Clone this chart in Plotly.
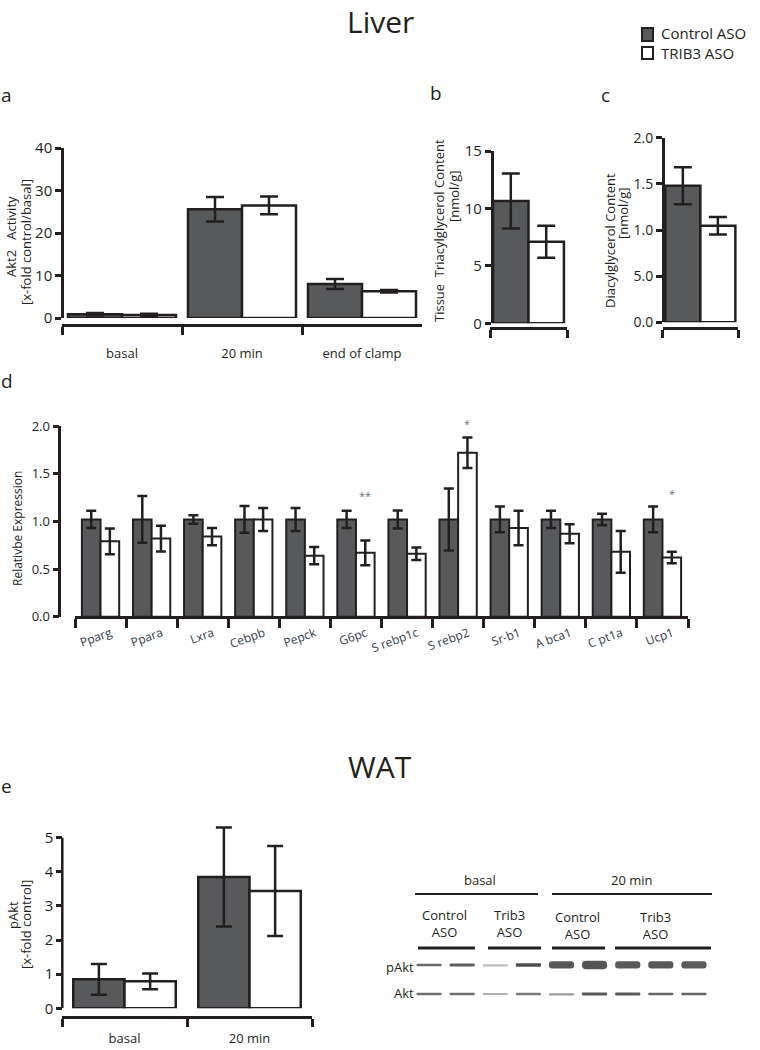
import plotly.graph_objects as go

# ---------------- data ----------------
a_groups = ["basal", "20 min", "end of clamp"]
a_ctrl = [0.9, 25.6, 8.0]
a_ctrl_sem = [0.3, 2.9, 1.2]
a_trib = [0.7, 26.5, 6.3]
a_trib_sem = [0.3, 2.1, 0.3]

b_groups = ["TG"]
b_ctrl = [10.65]
b_ctrl_sem = [2.4]
b_trib = [7.1]
b_trib_sem = [1.4]

c_groups = ["DAG"]
c_ctrl = [1.48]
c_ctrl_sem = [0.2]
c_trib = [1.045]
c_trib_sem = [0.095]
c_tickvals = [0.0, 0.5, 1.0, 1.5, 2.0]
c_ticktext = ["0.0", "5.0", "1.0", "1.5", "2.0"]

d_genes = ["Pparg", "Ppara", "Lxra", "Cebpb", "Pepck", "G6pc",
           "S rebp1c", "S rebp2", "Sr-b1", "A bca1", "C pt1a", "Ucp1"]
d_ctrl = [1.02, 1.02, 1.02, 1.02, 1.02, 1.02, 1.02, 1.02, 1.02, 1.02, 1.02, 1.02]
d_ctrl_sem = [0.09, 0.245, 0.045, 0.14, 0.12, 0.09, 0.095, 0.325, 0.135, 0.09, 0.06, 0.135]
d_trib = [0.79, 0.82, 0.84, 1.02, 0.64, 0.67, 0.66, 1.72, 0.93, 0.87, 0.68, 0.62]
d_trib_sem = [0.135, 0.135, 0.09, 0.12, 0.09, 0.13, 0.065, 0.16, 0.18, 0.10, 0.22, 0.06]
d_tickvals = [0.0, 0.5, 1.0, 1.5, 2.0]
d_ticktext = ["0.0", "0.5", "1.0", "1.5", "2.0"]
d_stars = [("G6pc", 1.27, "**"), ("S rebp2", 2.03, "*"), ("Ucp1", 1.29, "*")]

e_groups = ["basal", "20 min"]
e_ctrl = [0.85, 3.85]
e_ctrl_sem = [0.45, 1.45]
e_trib = [0.79, 3.44]
e_trib_sem = [0.23, 1.32]
e_tickvals = [0, 1, 2, 3, 4, 5]

legend_labels = ["Control ASO", "TRIB3 ASO"]

# western blot (lanes 1..9), band thickness and grey level
blot_lanes = [1, 2, 3, 4, 5, 6, 7, 8, 9]
pakt_thick = [0.09, 0.11, 0.06, 0.12, 0.25, 0.29, 0.25, 0.25, 0.25]
pakt_color = ["#6a6a6a", "#5e5e5e", "#bdbdbd", "#4e4e4e", "#575757",
              "#555555", "#585858", "#585858", "#5c5c5c"]
akt_thick = [0.09, 0.09, 0.07, 0.08, 0.06, 0.11, 0.11, 0.09, 0.09]
akt_color = ["#6e6e6e", "#6e6e6e", "#b0b0b0", "#7a7a7a", "#9a9a9a",
             "#5a5a5a", "#5a5a5a", "#666666", "#666666"]

# ---------------- style ----------------
INK = "#231f20"
CTRL = "#58595b"
FONT = "Open Sans"
W, H = 760, 1050


def X(px):
    return px / W


def Y(py):
    return 1 - py / H


fig = go.Figure()


def add_pair(cats, ctrl, ctrl_sem, trib, trib_sem, xa, ya, half, lw=2.5, capw=9):
    for vals, sem, col, off in [(ctrl, ctrl_sem, CTRL, -half), (trib, trib_sem, "white", 0.0)]:
        fig.add_trace(go.Bar(
            x=cats, y=vals, xaxis=xa, yaxis=ya, width=half, offset=off,
            marker=dict(color=col, line=dict(color=INK, width=lw)),
            error_y=dict(type="data", array=sem, visible=True, color=INK,
                         thickness=2.5, width=capw),
            cliponaxis=False, showlegend=False, hoverinfo="skip"))


add_pair(a_groups, a_ctrl, a_ctrl_sem, a_trib, a_trib_sem, "x", "y", 0.45)
add_pair(b_groups, b_ctrl, b_ctrl_sem, b_trib, b_trib_sem, "x2", "y2", 0.46)
add_pair(c_groups, c_ctrl, c_ctrl_sem, c_trib, c_trib_sem, "x3", "y3", 0.465)
add_pair(d_genes, d_ctrl, d_ctrl_sem, d_trib, d_trib_sem, "x4", "y4", 0.365, lw=2, capw=5)
add_pair(e_groups, e_ctrl, e_ctrl_sem, e_trib, e_trib_sem, "x5", "y5", 0.41, capw=8)

# western blot bands
for row, thick, cols in [(2, pakt_thick, pakt_color), (1, akt_thick, akt_color)]:
    fig.add_trace(go.Bar(
        x=blot_lanes, y=thick, base=[row - t / 2 for t in thick],
        xaxis="x6", yaxis="y6", width=0.76,
        marker=dict(color=cols, line=dict(width=0), cornerradius="45%"),
        showlegend=False, hoverinfo="skip"))

common = dict(showline=True, linecolor=INK, linewidth=2.5, ticks="outside",
              tickcolor=INK, tickwidth=2.5, showgrid=False, zeroline=False,
              fixedrange=True)


def xax(x0, x1, ypos, n, size=13, tl=8, standoff=10, show=True, **kw):
    d = dict(common)
    d.update(domain=[X(x0), X(x1)], anchor="free", position=Y(ypos), type="category",
             tickson="boundaries", ticklen=tl, range=[-0.5, n - 0.5],
             showticklabels=show, ticklabelstandoff=standoff,
             tickfont=dict(family=FONT, size=size, color=INK))
    d.update(kw)
    return d


def yax(y0, y1, xpos, rng, tickvals, ticktext=None, size=15, **kw):
    d = dict(common)
    d.update(domain=[Y(y0), Y(y1)], anchor="free", position=X(xpos), range=rng,
             tickvals=tickvals, ticklen=6,
             tickfont=dict(family=FONT, size=size, color=INK))
    if ticktext is not None:
        d["ticktext"] = ticktext
    d.update(kw)
    return d


# panel e: the axis range reaches above 5 so the error bar is not clipped;
# the axis line itself is drawn from 0 to 5 only (as in the reference)
E_TOP = 5.45
e_px_per_unit = (1008.3 - 837.7) / 5.0
e_top_px = 1008.3 - E_TOP * e_px_per_unit

layout = dict(
    width=W, height=H, autosize=False,
    margin=dict(l=0, r=0, t=0, b=0, autoexpand=False),
    paper_bgcolor="white", plot_bgcolor="rgba(0,0,0,0)",
    barmode="overlay", showlegend=False,
    font=dict(family=FONT, color=INK),
    xaxis=xax(62, 422, 325, 3, size=13, standoff=16),
    yaxis=yax(318, 148, 62, [0, 40], [0, 10, 20, 30, 40], size=15),
    xaxis2=xax(490, 567, 328, 1, show=False),
    yaxis2=yax(323.3, 151, 491.7, [0, 15], [0, 5, 10, 15], size=15),
    xaxis3=xax(662.7, 738, 328, 1, show=False),
    yaxis3=yax(322.3, 137.7, 662.7, [0, 2], c_tickvals, c_ticktext, size=14),
    xaxis4=xax(75, 688, 617, 12, size=12, tl=9, standoff=3, tickangle=-20,
               ticklabelshift=10, tickfont=dict(family=FONT, size=12, color="#333b4d")),
    yaxis4=yax(616.7, 426, 59.3, [0, 2], d_tickvals, d_ticktext, size=13),
    xaxis5=xax(62, 312, 1017, 2, size=13, standoff=9),
    yaxis5=yax(1008.3, e_top_px, 62.3, [0, E_TOP], e_tickvals, size=15, showline=False),
    xaxis6=dict(domain=[X(412.5), X(710.5)], anchor="y6", range=[0.5, 9.5],
                visible=False, fixedrange=True),
    yaxis6=dict(domain=[Y(1008.5), Y(950.5)], anchor="x6", range=[0.5, 2.5],
                visible=False, fixedrange=True),
)
fig.update_layout(**layout)

ann = []


def text(x, y, s, size=13, angle=0, xanchor="center", color=INK, align="center"):
    ann.append(dict(x=X(x), y=Y(y), xref="paper", yref="paper", text=s,
                    showarrow=False, textangle=angle, xanchor=xanchor, align=align,
                    yanchor="middle", font=dict(family=FONT, size=size, color=color)))


# titles
text(380, 21, "Liver", size=30)
text(380, 766, "WAT", size=30)
# panel letters
text(6, 95, "a", size=19)
text(436, 93, "b", size=19)
text(605, 95, "c", size=19)
text(7, 381, "d", size=19)
text(6, 786, "e", size=19)
# legend (one text block, two lines)
text(659, 43, "<br>".join(legend_labels), size=15, xanchor="left", align="left")
# y titles
text(11, 237, "Akt2   Activity", size=13, angle=-90)
text(26, 242, "[x-fold control/basal]", size=13, angle=-90)
text(439, 231, "Tissue  Triacylglycerol Content", size=13, angle=-90)
text(454, 197, "[nmol/g]", size=13, angle=-90)
text(610, 241, "Diacylglycerol Content", size=13, angle=-90)
text(623, 214, "[nmol/g]", size=13, angle=-90)
text(17, 529, "Relativbe Expression", size=12, angle=-90)
text(13, 915, "pAkt", size=13, angle=-90)
text(26, 925, "[x-fold control]", size=13, angle=-90)
# blot labels
text(480, 880, "basal", size=13)
text(632, 880, "20 min", size=13)
text(444, 923, "Control<br>ASO", size=13)
text(509, 923, "Trib3<br>ASO", size=13)
text(577, 925, "Control<br>ASO", size=13)
text(655, 925, "Trib3<br>ASO", size=13)
text(416, 967, "pAkt", size=13, xanchor="right")
text(416, 993, "Akt", size=13, xanchor="right")

# significance stars (placed in panel d data coordinates, lifted in pixels)
for gene, yv, s in d_stars:
    i = d_genes.index(gene)
    ann.append(dict(x=i + 0.18, y=min(yv, 1.95), yshift=(yv - min(yv, 1.95)) * 95,
                    xref="x4", yref="y4", text=s, showarrow=False,
                    font=dict(family=FONT, size=11, color="#6b7385"),
                    xanchor="center", yanchor="middle"))

fig.update_layout(annotations=ann)

shapes = []
# panel e y-axis line from 0 to the top tick
shapes.append(dict(type="line", xref="paper", yref="y5", x0=X(62.3), x1=X(62.3),
                   y0=0, y1=e_tickvals[-1], line=dict(color=INK, width=2.5)))
# legend keys
shapes.append(dict(type="rect", xref="paper", yref="paper", x0=X(642), x1=X(653),
                   y0=Y(41), y1=Y(28), fillcolor=CTRL, line=dict(color=INK, width=2)))
shapes.append(dict(type="rect", xref="paper", yref="paper", x0=X(642), x1=X(653),
                   y0=Y(59), y1=Y(47), fillcolor="white", line=dict(color=INK, width=2)))
# blot bracket lines
for x0, x1, yy, w in [(415, 538, 894, 2), (552, 712, 894, 2),
                      (418, 475, 948, 3), (488, 541, 948, 3),
                      (552, 605, 948, 3), (615, 711, 948, 3)]:
    shapes.append(dict(type="line", xref="paper", yref="paper", x0=X(x0), x1=X(x1),
                       y0=Y(yy), y1=Y(yy), line=dict(color=INK, width=w)))
fig.update_layout(shapes=shapes)

fig.write_html("out.html", config={"displayModeBar": False},
               post_script="document.body.style.margin='0';document.body.style.overflow='hidden';")
